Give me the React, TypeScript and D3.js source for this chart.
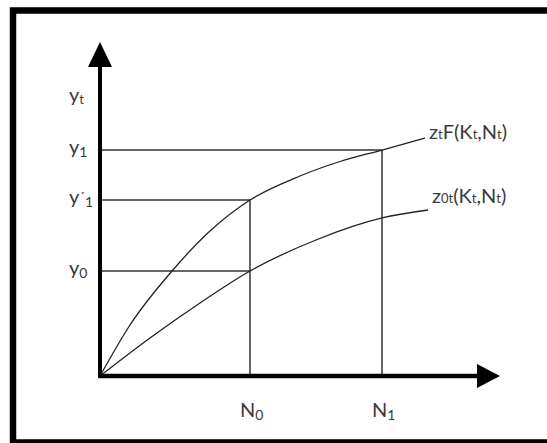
import React from "react";
import * as d3 from "d3";

// abstract data units: x in [0,100], y in [0,100]
const xTickValues = [37.5, 70.5];
const xTickLabels = [
  { base: "N", sub: "0" },
  { base: "N", sub: "1" },
];
const yTickValues = [31.44, 52.69, 67.66];
const yTickLabels = [
  { base: "y", prime: false, sub: "0" },
  { base: "y", prime: true, sub: "1" },
  { base: "y", prime: false, sub: "1" },
];
const upperX = [0, 7.5, 18, 27.5, 37.5, 50, 60, 70.5, 81.25];
const upperY = [0, 15.27, 31.44, 43.41, 52.69, 59.88, 64.22, 67.66, 71.26];
const lowerX = [0, 12.5, 25, 37.5, 54, 70.5, 82];
const lowerY = [0, 11.38, 21.86, 31.44, 40.72, 47.31, 49.7];

export default function App() {
  const W = 547;
  const H = 443;
  const x = d3.scaleLinear().domain([0, 100]).range([100, 500]);
  const y = d3.scaleLinear().domain([0, 100]).range([376, 42]);
  const line = d3
    .line<[number, number]>()
    .x((d) => x(d[0]))
    .y((d) => y(d[1]))
    .curve(d3.curveMonotoneX);
  const upper = upperX.map((v, i) => [v, upperY[i]] as [number, number]);
  const lower = lowerX.map((v, i) => [v, lowerY[i]] as [number, number]);
  const x0 = x(0);
  const y0 = y(0);
  const font = "Lato, 'Open Sans', sans-serif";
  const tc = "#3a3a3a";
  const gc = "#333";
  const upAt = (xv: number) => upperY[upperX.indexOf(xv)];
  const xEnd = [x(xTickValues[0]), x(xTickValues[0]), x(xTickValues[1])];
  return (
    <svg
      width={W}
      height={H}
      style={{ position: "absolute", left: 0, top: 0 }}
      fontFamily={font}
    >
      <rect x={0} y={0} width={W} height={H} fill="#fff" />
      <rect x={13} y={10.5} width={560} height={432} fill="#fff" stroke="#000" strokeWidth={6.5} />
      {/* horizontal guides */}
      {yTickValues.map((v, i) => (
        <line key={"h" + i} x1={x0} x2={xEnd[i]} y1={y(v)} y2={y(v)} stroke={gc} strokeWidth={1.5} />
      ))}
      {/* vertical guides */}
      {xTickValues.map((v, i) => (
        <line key={"v" + i} x1={x(v)} x2={x(v)} y1={y0} y2={y(upAt(v))} stroke={gc} strokeWidth={1.5} />
      ))}
      {/* curves */}
      <path d={line(upper) || ""} fill="none" stroke="#222" strokeWidth={1.3} />
      <path d={line(lower) || ""} fill="none" stroke="#222" strokeWidth={1.3} />
      {/* axes */}
      <line x1={x0} x2={x0} y1={y0 + 2} y2={67} stroke="#000" strokeWidth={4} />
      <path d={`M${x0},${y(100)} L${x0 - 12},67 L${x0 + 12},67 Z`} fill="#000" />
      <line x1={x0 - 2} x2={477} y1={y0} y2={y0} stroke="#000" strokeWidth={4.5} />
      <path d={`M${x(100)},${y0} L477,${y0 - 12} L477,${y0 + 12} Z`} fill="#000" />
      {/* y labels */}
      <text x={69} y={102} fontSize={20} fill={tc}>
        y<tspan fontSize={13} dy={2}>t</tspan>
      </text>
      {yTickValues.map((v, i) => {
        const l = yTickLabels[i];
        return (
          <text key={"yl" + i} x={69} y={y(v) + 4} fontSize={20} fill={tc}>
            {l.base}
            {l.prime ? <tspan fontSize={14} dy={-2}>´</tspan> : null}
            <tspan fontSize={14} dy={l.prime ? 5 : 3}>{l.sub}</tspan>
          </text>
        );
      })}
      {/* x labels */}
      {xTickValues.map((v, i) => (
        <text key={"xl" + i} x={x(v) - 10} y={417} fontSize={20} fill={tc}>
          {xTickLabels[i].base}
          <tspan fontSize={14} dy={3}>{xTickLabels[i].sub}</tspan>
        </text>
      ))}
      {/* curve labels */}
      <text x={429} y={139} fontSize={20} fill={tc}>
        z<tspan fontSize={13}>t</tspan>F(K<tspan fontSize={13}>t</tspan>,N<tspan fontSize={13}>t</tspan>)
      </text>
      <text x={432} y={203} fontSize={20} fill={tc}>
        z<tspan fontSize={13}>0t</tspan>(K<tspan fontSize={13}>t</tspan>,N<tspan fontSize={13}>t</tspan>)
      </text>
    </svg>
  );
}
